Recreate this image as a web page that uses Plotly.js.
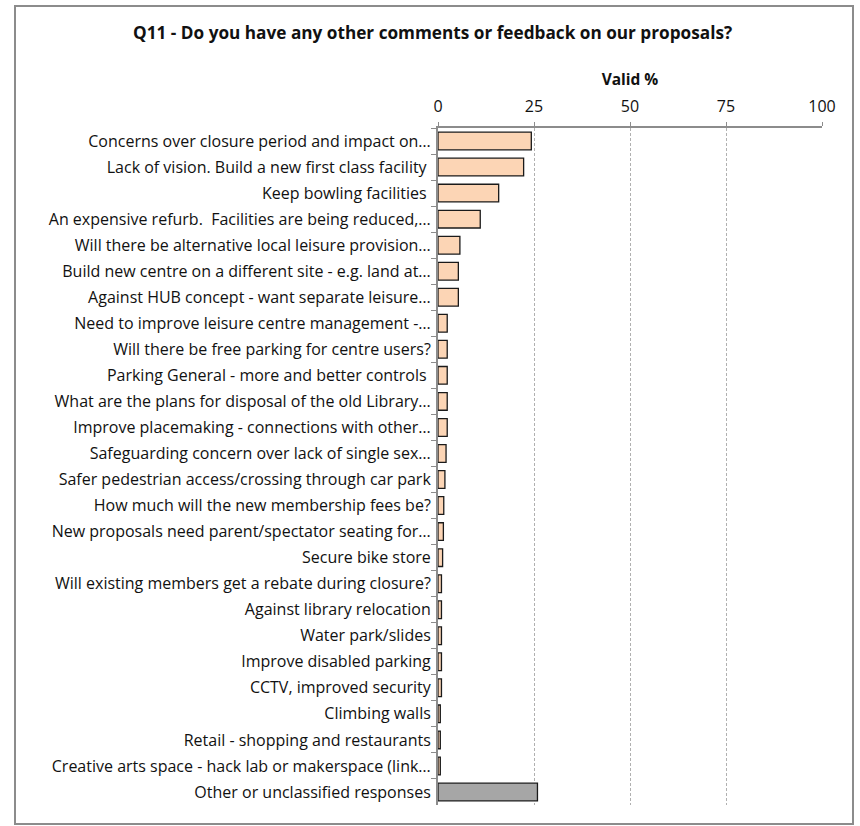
<!DOCTYPE html>
<html>
<head>
<meta charset="utf-8">
<script src="https://cdn.plot.ly/plotly-3.0.1.min.js"></script>
<style>
  html, body { margin: 0; padding: 0; background: #fff; }
  #wrap { position: relative; width: 860px; height: 826px; }
  #chart { position: absolute; left: 0; top: 0; width: 860px; height: 826px; }
  #frame { position: absolute; left: 14px; top: 5px; width: 836px; height: 816px; border: 2px solid #8c8c8c; pointer-events: none; }
</style>
</head>
<body>
<div id="wrap">
  <div id="chart"></div>
  <div id="frame"></div>
</div>
<script>
const NB = "\u00A0";
const categories = [
  "Concerns over closure period and impact on…",
  "Lack of vision. Build a new first class facility" + NB,
  "Keep bowling facilities" + NB,
  "An expensive refurb." + NB + NB + "Facilities are being reduced,…",
  "Will there be alternative local leisure provision…",
  "Build new centre on a different site - e.g. land at…",
  "Against HUB concept - want separate leisure…",
  "Need to improve leisure centre management -…",
  "Will there be free parking for centre users?",
  "Parking General - more and better controls" + NB,
  "What are the plans for disposal of the old Library…",
  "Improve placemaking - connections with other…",
  "Safeguarding concern over lack of single sex…",
  "Safer pedestrian access/crossing through car park",
  "How much will the new membership fees be?",
  "New proposals need parent/spectator seating for…",
  "Secure bike store",
  "Will existing members get a rebate during closure?",
  "Against library relocation",
  "Water park/slides",
  "Improve disabled parking",
  "CCTV, improved security",
  "Climbing walls",
  "Retail - shopping and restaurants",
  "Creative arts space - hack lab or makerspace (link…",
  "Other or unclassified responses"
];
const validPct = [24.3, 22.3, 15.8, 11.0, 5.7, 5.3, 5.3, 2.4, 2.4, 2.4, 2.4, 2.4, 2.1, 1.8, 1.5, 1.4, 1.2, 0.9, 0.9, 0.9, 0.9, 0.9, 0.6, 0.6, 0.6, 25.9];
const xTicks = [0, 25, 50, 75, 100];
const titleText = "Q11 - Do you have any other comments or feedback on our proposals?";
const axisTitle = "Valid %";

const fills = categories.map((c, i) => i === categories.length - 1 ? "#a6a6a6" : "#fcd5b5");

const trace = {
  type: "bar",
  orientation: "h",
  x: validPct,
  y: categories,
  marker: { color: fills, line: { color: "#1a1a1a", width: 1.3 } },
  width: 0.68,
  hoverinfo: "x+y"
};

const FONT = "'Open Sans', sans-serif";
const layout = {
  width: 860, height: 826,
  margin: { l: 438, r: 38, t: 128, b: 21 },
  paper_bgcolor: "#ffffff",
  plot_bgcolor: "#ffffff",
  showlegend: false,
  font: { family: FONT, size: 16, color: "#111" },
  title: {
    text: "<b>" + titleText + "</b>",
    font: { family: FONT, size: 17.2, color: "#111" },
    x: 0.503, xref: "container", xanchor: "center",
    y: 1 - 33/826, yref: "container", yanchor: "middle"
  },
  xaxis: {
    side: "top",
    range: [0, 100],
    tickvals: xTicks,
    ticktext: xTicks.map(String),
    showgrid: true,
    gridcolor: "#b0b0b0",
    griddash: "3px,2px",
    gridwidth: 1,
    showline: true,
    linecolor: "#8c8c8c",
    linewidth: 2,
    ticks: "outside",
    ticklen: 4,
    tickcolor: "#8c8c8c",
    tickfont: { family: FONT, size: 16, color: "#111" },
    ticklabelstandoff: 4,
    zeroline: false,
    title: { text: "<b>" + axisTitle + "</b>", font: { family: FONT, size: 15.5, color: "#111" }, standoff: 5 },
    fixedrange: true
  },
  yaxis: {
    autorange: "reversed",
    type: "category",
    showline: true,
    linecolor: "#8c8c8c",
    linewidth: 2,
    ticks: "outside",
    tickson: "boundaries",
    ticklen: 5,
    tickcolor: "#8c8c8c",
    showgrid: false,
    tickfont: { family: FONT, size: 16, color: "#111" },
    ticklabelstandoff: 2,
    fixedrange: true
  },
  bargap: 0.32
};

Plotly.newPlot("chart", [trace], layout, { displayModeBar: false, staticPlot: true });
</script>
</body>
</html>
